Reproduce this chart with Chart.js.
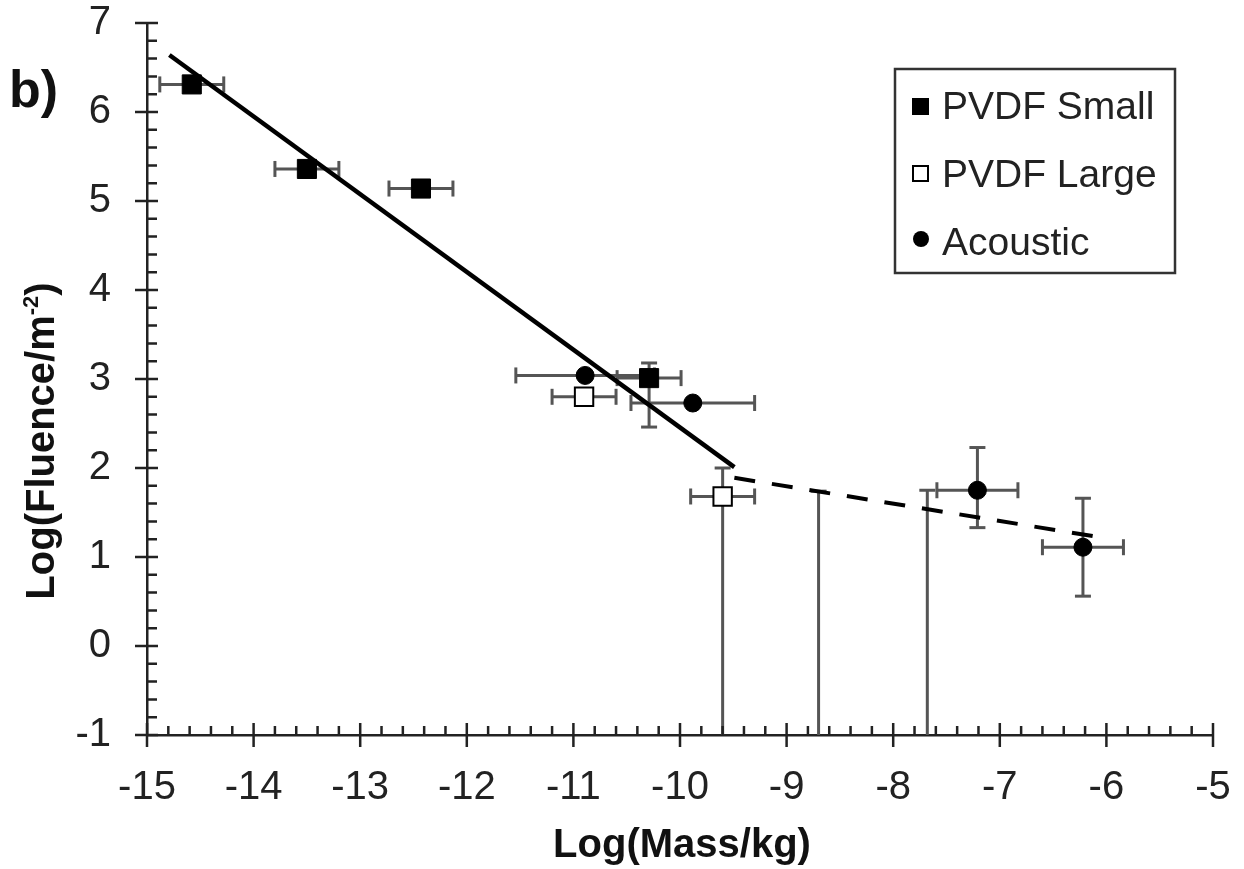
<!DOCTYPE html>
<html>
<head>
<meta charset="utf-8">
<script src="https://cdn.jsdelivr.net/npm/chart.js@4.4.1/dist/chart.umd.min.js"></script>
<style>
  html, body { margin: 0; padding: 0; background: #fff; }
</style>
</head>
<body>
<canvas id="fluenceChart" width="1244" height="869"></canvas>
<script>
// PVDF small sensor (log mass, log fluence, error bars)
var smallMass = [-14.58, -13.5, -12.43, -10.29];
var smallFluence = [6.31, 5.36, 5.14, 3.01];
var smallMassErr = [0.3, 0.3, 0.3, 0.3];
var smallUp = [0, 0, 0, 0.17];
var smallDown = [0, 0, 0, 0.55];

// PVDF large sensor
var largeMass = [-10.9, -9.6];
var largeFluence = [2.80, 1.68];
var largeMassErr = [0.3, 0.3];
var largeUp = [0, 0.32];
var largeDown = [0, 2.9];

// Acoustic sensor
var acousticMass = [-10.89, -9.88, -7.21, -6.22];
var acousticFluence = [3.04, 2.73, 1.75, 1.11];
var acousticMassErr = [0.65, 0.58, 0.38, 0.38];
var acousticUp = [0, 0, 0.48, 0.55];
var acousticDown = [0, 0, 0.42, 0.55];

// upper limits without a marker
var limitMass = [-8.7, -7.68];
var limitFluence = [1.74, 1.75];
var limitDown = [2.9, 2.9];

// fitted lines
var fitMass = [-14.79, -9.49];
var fitFluence = [6.64, 2.01];
var fitDashMass = [-9.49, -6.0];
var fitDashFluence = [1.89, 1.21];

// axes
var xTicks = [-15, -14, -13, -12, -11, -10, -9, -8, -7, -6, -5];
var yTicks = [-1, 0, 1, 2, 3, 4, 5, 6, 7];

var legendNames = ['PVDF Small', 'PVDF Large', 'Acoustic'];

var toPoints = function (xs, ys) {
    return xs.map(function (x, i) { return { x: x, y: ys[i] }; });
};
var zeros = function (n) {
    var a = [];
    for (var i = 0; i < n; i++) a.push(0);
    return a;
};

var font = "'Liberation Sans', Arial, sans-serif";
var ink = '#222';

// Error bars, drawn under the markers
var errorBars = {
    id: 'errorBars',
    beforeDatasetsDraw: function (chart) {
        var ctx = chart.ctx, xs = chart.scales.x, ys = chart.scales.y, a = chart.chartArea;
        var seg = function (x1, y1, x2, y2) {
            ctx.beginPath(); ctx.moveTo(x1, y1); ctx.lineTo(x2, y2); ctx.stroke();
        };
        ctx.save();
        ctx.beginPath();
        ctx.rect(a.left, a.top - 10, a.right - a.left, a.bottom - a.top + 10);
        ctx.clip();
        ctx.strokeStyle = '#555';
        ctx.lineWidth = 3;
        chart.data.datasets.forEach(function (ds) {
            if (!ds.err) return;
            ds.data.forEach(function (p, i) {
                var px = xs.getPixelForValue(p.x), py = ys.getPixelForValue(p.y);
                var dx = ds.err.x[i], up = ds.err.up[i], down = ds.err.down[i];
                if (dx) {
                    var l = xs.getPixelForValue(p.x - dx), r = xs.getPixelForValue(p.x + dx);
                    seg(l, py, r, py);
                    seg(l, py - 8, l, py + 8);
                    seg(r, py - 8, r, py + 8);
                }
                if (up || down) {
                    var t = ys.getPixelForValue(p.y + up), b = ys.getPixelForValue(p.y - down);
                    seg(px, t, px, b);
                    seg(px - 8, t, px + 8, t);
                    seg(px - 8, b, px + 8, b);
                }
            });
        });
        ctx.restore();
    }
};

// Major ticks crossing the axes, minor ticks inside
var axisTicks = {
    id: 'axisTicks',
    afterDraw: function (chart) {
        var ctx = chart.ctx, xs = chart.scales.x, ys = chart.scales.y, a = chart.chartArea;
        ctx.save();
        ctx.strokeStyle = ink;
        ctx.lineWidth = 2.5;
        ctx.beginPath();
        for (var v = xs.min; v <= xs.max + 1e-9; v += 0.2) {
            var x = xs.getPixelForValue(v);
            var major = Math.abs(v - Math.round(v)) < 1e-6;
            ctx.moveTo(x, a.bottom + (major ? 12 : 0));
            ctx.lineTo(x, a.bottom - (major ? 12 : 9));
        }
        for (var w = ys.min; w <= ys.max + 1e-9; w += 0.2) {
            var y = ys.getPixelForValue(w);
            var maj = Math.abs(w - Math.round(w)) < 1e-6;
            ctx.moveTo(a.left - (maj ? 12 : 0), y);
            ctx.lineTo(a.left + (maj ? 11 : 10), y);
        }
        ctx.stroke();
        ctx.restore();
    }
};

// Axis titles, panel letter and boxed legend
var decorations = {
    id: 'decorations',
    afterDraw: function (chart) {
        var ctx = chart.ctx, a = chart.chartArea;
        ctx.save();
        ctx.fillStyle = '#111';

        ctx.font = 'bold 40px ' + font;
        ctx.textAlign = 'center';
        ctx.textBaseline = 'alphabetic';
        ctx.fillText('Log(Mass/kg)', (a.left + a.right) / 2 + 2, 857);

        // y title with superscript
        ctx.translate(54, 441);
        ctx.rotate(-Math.PI / 2);
        ctx.textAlign = 'left';
        var main = 'Log(Fluence/m', sup = '-2', close = ')';
        ctx.font = 'bold 40px ' + font;
        var w1 = ctx.measureText(main).width, w3 = ctx.measureText(close).width;
        ctx.font = 'bold 22px ' + font;
        var w2 = ctx.measureText(sup).width;
        var x0 = -(w1 + w2 + w3) / 2;
        ctx.font = 'bold 40px ' + font;
        ctx.fillText(main, x0, 0);
        ctx.fillText(close, x0 + w1 + w2, 0);
        ctx.font = 'bold 22px ' + font;
        ctx.fillText(sup, x0 + w1, -16);
        ctx.setTransform(1, 0, 0, 1, 0, 0);

        ctx.font = 'bold 52px ' + font;
        ctx.textAlign = 'left';
        ctx.fillText('b)', 9, 107);

        // legend
        ctx.fillStyle = '#fff';
        ctx.fillRect(895, 69, 280, 204);
        ctx.strokeStyle = '#333';
        ctx.lineWidth = 2.5;
        ctx.strokeRect(895, 69, 280, 204);
        ctx.font = '39px ' + font;
        ctx.textBaseline = 'middle';
        legendNames.forEach(function (name, i) {
            var cy = 106 + i * 68;
            ctx.fillStyle = '#000';
            ctx.lineWidth = 2;
            ctx.strokeStyle = '#000';
            if (i === 0) {
                ctx.fillRect(912, cy - 8, 17, 17);
            } else if (i === 1) {
                ctx.fillStyle = '#fff';
                ctx.fillRect(913, cy - 8, 15, 15);
                ctx.strokeRect(913, cy - 8, 15, 15);
            } else {
                ctx.beginPath();
                ctx.arc(921, cy - 3, 8, 0, Math.PI * 2);
                ctx.fill();
            }
            ctx.fillStyle = ink;
            ctx.fillText(name, 942, cy + 2);
        });
        ctx.restore();
    }
};

var ctx = document.getElementById('fluenceChart').getContext('2d');
var chart = new Chart(ctx, {
    type: 'scatter',
    data: {
        datasets: [
            {
                label: 'PVDF Small',
                data: toPoints(smallMass, smallFluence),
                err: { x: smallMassErr, up: smallUp, down: smallDown },
                pointStyle: 'rect',
                pointRadius: 13.5,
                backgroundColor: '#000',
                borderColor: '#000',
                borderWidth: 1
            },
            {
                label: 'PVDF Large',
                data: toPoints(largeMass, largeFluence),
                err: { x: largeMassErr, up: largeUp, down: largeDown },
                pointStyle: 'rect',
                pointRadius: 13,
                backgroundColor: '#fff',
                borderColor: '#000',
                borderWidth: 2
            },
            {
                label: 'Acoustic',
                data: toPoints(acousticMass, acousticFluence),
                err: { x: acousticMassErr, up: acousticUp, down: acousticDown },
                pointStyle: 'circle',
                pointRadius: 9,
                backgroundColor: '#000',
                borderColor: '#000',
                borderWidth: 1
            },
            {
                label: 'limits',
                data: toPoints(limitMass, limitFluence),
                err: { x: zeros(limitMass.length), up: zeros(limitMass.length), down: limitDown },
                pointRadius: 0
            },
            {
                label: 'fit',
                data: toPoints(fitMass, fitFluence),
                showLine: true,
                borderColor: '#000',
                borderWidth: 4.5,
                pointRadius: 0
            },
            {
                label: 'fit dashed',
                data: toPoints(fitDashMass, fitDashFluence),
                showLine: true,
                borderColor: '#000',
                borderWidth: 4,
                borderDash: [21, 17],
                pointRadius: 0
            }
        ]
    },
    options: {
        responsive: false,
        animation: false,
        events: [],
        layout: { padding: { top: 23, right: 31, bottom: 0, left: 0 } },
        plugins: {
            legend: { display: false },
            tooltip: { enabled: false }
        },
        scales: {
            x: {
                type: 'linear',
                min: xTicks[0],
                max: xTicks[xTicks.length - 1],
                afterBuildTicks: function (s) { s.ticks = xTicks.map(function (v) { return { value: v }; }); },
                afterFit: function (s) { s.height = 134; s.paddingLeft = 0; s.paddingRight = 0; },
                grid: { display: false, drawTicks: false },
                border: { display: true, color: ink, width: 2.5 },
                ticks: { padding: 29, color: ink, font: { family: font, size: 40 }, maxRotation: 0 }
            },
            y: {
                type: 'linear',
                min: yTicks[0],
                max: yTicks[yTicks.length - 1],
                afterBuildTicks: function (s) { s.ticks = yTicks.map(function (v) { return { value: v }; }); },
                afterFit: function (s) { s.width = 147; s.paddingTop = 0; s.paddingBottom = 0; },
                grid: { display: false, drawTicks: false },
                border: { display: true, color: ink, width: 2.5 },
                ticks: { padding: 36, color: ink, font: { family: font, size: 40 } }
            }
        }
    },
    plugins: [errorBars, axisTicks, decorations]
});
</script>
</body>
</html>
